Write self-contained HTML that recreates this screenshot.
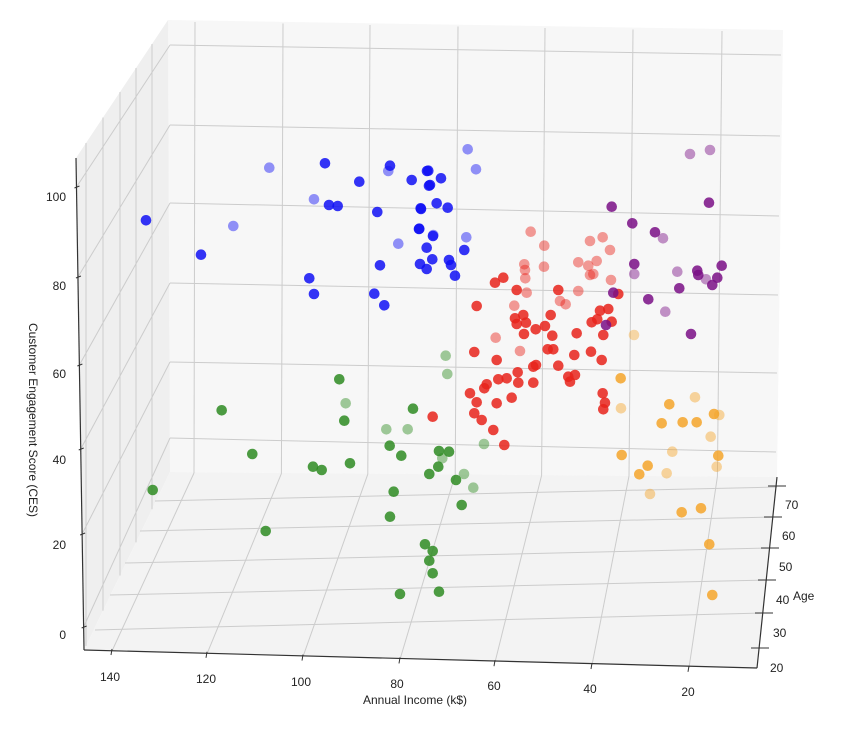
<!DOCTYPE html>
<html><head><meta charset="utf-8"><style>
html,body{margin:0;padding:0;background:#fff;}
svg{display:block;font-family:"Liberation Sans","DejaVu Sans",sans-serif;}
</style></head><body>
<svg id="s" width="850" height="730" viewBox="0 0 850 730" xmlns="http://www.w3.org/2000/svg">
<polygon points="168,20 783,30 777,477 170,472" fill="#f7f7f7"/>
<polygon points="76,158 168,20 170,472 84,650" fill="#efefef"/>
<polygon points="84,650 170,472 777,477 757,668" fill="#f3f3f3"/>
<g id="grid" stroke="#cccccc" stroke-width="1" fill="none"></g>
<g stroke="#333" stroke-width="1.2" fill="none">
<line x1="76" y1="158" x2="84" y2="650"/>
<line x1="84" y1="650" x2="757" y2="668"/>
<line x1="777" y1="477" x2="757" y2="668"/>
</g>
<g id="pts"></g>
<g font-size="12" fill="#222">
<text x="66" y="201" text-anchor="end">100</text>
<text x="66" y="290" text-anchor="end">80</text>
<text x="66" y="378" text-anchor="end">60</text>
<text x="66" y="464" text-anchor="end">40</text>
<text x="66" y="549" text-anchor="end">20</text>
<text x="66" y="639" text-anchor="end">0</text>
<text transform="translate(29,420) rotate(90)" text-anchor="middle">Customer Engagement Score (CES)</text>
<text x="110" y="681" text-anchor="middle">140</text>
<text x="206" y="683" text-anchor="middle">120</text>
<text x="301" y="686" text-anchor="middle">100</text>
<text x="397" y="688" text-anchor="middle">80</text>
<text x="494" y="690" text-anchor="middle">60</text>
<text x="590" y="693" text-anchor="middle">40</text>
<text x="688" y="696" text-anchor="middle">20</text>
<text x="415" y="704" text-anchor="middle">Annual Income (k$)</text>
<text x="785" y="509">70</text>
<text x="782" y="540">60</text>
<text x="779" y="571">50</text>
<text x="776" y="604">40</text>
<text x="773" y="637">30</text>
<text x="770" y="672">20</text>
<text x="793" y="600">Age</text>
</g>
</svg>
<script>
(function(){
var NS="http://www.w3.org/2000/svg";
var g=document.getElementById('grid');
function L(a,b,c,d){var l=document.createElementNS(NS,'line');l.setAttribute('x1',a);l.setAttribute('y1',b);l.setAttribute('x2',c);l.setAttribute('y2',d);g.appendChild(l);}
var i,x;
var bx=[195,283,370,458,545,633,722], fx=[112,207,303,400,495,592,689];
for(i=0;i<7;i++){var t=22+i*1.5;L(bx[i],t,bx[i]-1-i*0.6,473+i*0.6);L(bx[i]-1-i*0.6,473+i*0.6,fx[i],651+i*2.8);}
var bl=[45,125,203,283,362,438],br=[55,136,216,295,373,452];
for(i=0;i<6;i++)L(170,bl[i],781-i,br[i]);
var zl=[187,277,365,449,534,627];
for(i=0;i<6;i++){x=76+(zl[i]-158)/492*8;L(x,zl[i],170,bl[i]);}
var lv=[86,103,120,136,152];
for(i=0;i<5;i++){x=lv[i];var yt=158-(x-76)*138/92;var yb=650-(x-84)*178/86;L(x,yt,x,yb);}
var fl=[[155,501,777,487],[140,531,774,517],[125,563,771,548],[110,595,767,580],[95,630,764,613]];
fl.forEach(function(a){L(a[0],a[1],a[2],a[3]);});
var tk=document.createElementNS(NS,'g');tk.setAttribute('stroke','#333');document.getElementById('s').insertBefore(tk,document.getElementById('pts'));
function T(a,b,c,d){var l=document.createElementNS(NS,'line');l.setAttribute('x1',a);l.setAttribute('y1',b);l.setAttribute('x2',c);l.setAttribute('y2',d);tk.appendChild(l);}
zl.forEach(function(y){var xx=76+(y-158)/492*8;T(xx-2,y+1,xx+3,y-1);});
fx.forEach(function(xx,k){T(xx,651+k*2.8-2,xx-1,651+k*2.8+4);});
[[486,778],[517,774],[548,771],[580,768],[613,765],[648,761]].forEach(function(a){T(a[1]-10,a[0],a[1]+8,a[0]);});
var P=document.getElementById('pts');
function C(cx,cy,col,op){var c=document.createElementNS(NS,'circle');c.setAttribute('cx',cx.toFixed(1));c.setAttribute('cy',cy.toFixed(1));c.setAttribute('r',5.3);c.setAttribute('fill',col);c.setAttribute('fill-opacity',op);P.appendChild(c);}
function add(list,ox,oy,sc,col){list.forEach(function(p){C(ox+p[0]/sc,oy+p[1]/sc,col,p[2]?0.45:0.85);});}
var BLUE="#1010f5",RED="#e8231b",PUR="#7a0f86",GRN="#2e8b22",ORG="#f5a52a";
add([[947,47,1],[952,102,1],[628,118],[647,190,1],[643,242],[275,211],[849,206],[769,268,1],[833,268,1],[779,317],[814,347],[367,342],[549,380],[575,390],[660,370],[927,333],[957,335],[937,355,1],[925,380],[898,402],[978,420],[1002,402,1],[1030,443,1],[995,495],[791,455],[780,530],[68,450],[407,573],[885,613],[908,633],[898,662],[908,700],[810,762],[927,755],[1062,312,1]],130,340,3,GRN);
add([[332,35,1],[373,77,1],[510,63,1],[548,52,1],[570,90,1],[313,133,1],[315,150,1],[316,175,1],[372,140,1],[475,127,1],[505,137,1],[530,123,1],[510,165,1],[520,162,1],[573,180,1],[595,222],[225,188],[250,173],[290,210],[320,218,1],[415,210],[475,213,1],[420,243,1],[437,253,1],[170,258],[283,257,1],[310,285],[285,295],[290,312],[318,308],[392,285],[375,318],[347,328],[312,342],[397,347],[470,340],[540,272],[565,267],[515,307],[532,298],[575,305],[550,345],[227,353,1],[163,396],[230,420],[300,393,1],[383,388],[400,388],[463,405],[513,395],[545,420],[340,440],[348,435],[415,437],[293,457],[260,475],[235,478],[295,488],[340,488],[445,470],[465,465],[450,485],[200,493],[193,505],[150,520],[170,547],[230,550],[275,533],[548,520],[555,548],[550,568],[38,590],[163,580],[185,600],[220,630],[253,675]],420,220,3,RED);
add([[65,80],[357,68],[127,130],[195,157],[219,175,1],[133,252],[133,282,1],[262,275,1],[322,272],[325,285],[348,298,1],[382,293],[395,257],[367,315],[268,325],[70,338],[175,358],[226,395,1],[303,462],[48,435]],590,180,3,PUR);
C(690,154,PUR,0.45);C(710,150,PUR,0.45);
add([[587,40],[588,130,1],[590,270],[733,118],[810,97,1],[710,175],[773,172],[815,172],[867,147],[883,150,1],[857,215,1],[742,260,1],[880,272],[875,305,1],[668,302],[643,328],[725,325,1],[675,387,1],[770,442],[828,430],[853,538],[862,690]],425,365,3,ORG);
C(634,335,ORG,0.4);
add([[808,503,1],[975,490],[1170,497],[1165,513,1],[1078,545],[1235,540],[942,598,1],[987,615],[1013,618],[1132,636],[1262,625],[438,661],[700,678,1],[603,764],[1195,731,1],[1258,686],[1140,796],[928,835],[942,882],[1123,881],[1153,916]],0,0,3,BLUE);
add([[128,448,1],[153,508,1],[10,512],[48,535],[12,557],[35,610],[68,623],[25,705,1],[124,712,1],[118,750],[5,743],[22,778],[72,780],[78,795],[90,827],[5,807]],425,0,3,BLUE);
[[421,209],[419,229],[427,171],[430,185],[433,236],[420,264]].forEach(function(p){C(p[0],p[1],BLUE,0.85);});
})();
</script>
</body></html>
